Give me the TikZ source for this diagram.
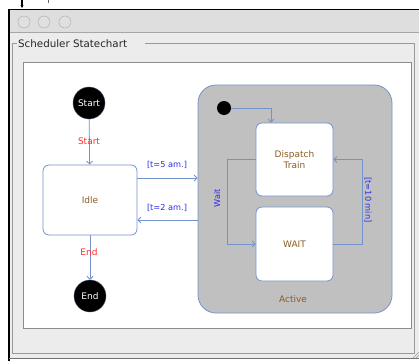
\documentclass[tikz,border=0pt]{standalone}
\usepackage{fontspec}
\setmainfont{DejaVu Sans}
\usetikzlibrary{arrows.meta}
\definecolor{edgec}{HTML}{7393CC}
\definecolor{lblblue}{HTML}{2B2BEA}
\definecolor{lblred}{HTML}{FF2E2E}
\definecolor{brownc}{HTML}{8A5C22}
\definecolor{activefill}{HTML}{C0C0C0}
\definecolor{winbg}{HTML}{ECECEC}
\definecolor{titlebg}{HTML}{DEDEDE}
\tikzset{
  statebox/.style={draw=edgec, line width=0.8pt, fill=white, rounded corners=6pt,
    inner sep=0pt, align=center, text=brownc, font=\fontsize{9}{10.5}\selectfont},
  terminal/.style={circle, fill=black, draw=edgec!60!black, line width=0.4pt, minimum size=32pt, inner sep=0pt,
    text=white, font=\fontsize{9}{10}\selectfont},
  conn/.style={draw=edgec, line width=0.8pt, -{Straight Barb[length=3pt,width=6pt]}},
  bluelbl/.style={text=lblblue, font=\fontsize{8.2}{9}\selectfont, inner sep=0pt},
  redlbl/.style={text=lblred, font=\fontsize{9}{10}\selectfont, inner sep=0pt},
  winbtn/.style={circle, draw=black!30, fill=black!12, minimum size=12pt, inner sep=0pt, line width=0.5pt}
}
\begin{document}
\begin{tikzpicture}[x=1pt,y=-1pt]
\useasboundingbox (0,0) rectangle (419,361);
\fill[white] (0,0) rectangle (419,361);
% little marks at top
\draw[black, line width=1.2pt, -{Stealth[length=3pt,width=3pt]}] (22,0) -- (22,8);
\draw[black!60, line width=0.6pt] (48,0) -- (48,3);
% window
\fill[winbg] (9,10) rectangle (419,359);
\fill[titlebg] (9,10) rectangle (419,32);
\draw[black!35, line width=0.6pt] (9,32.5) -- (419,32.5);
\draw[black, line width=1.5pt] (8,9.5) -- (419,9.5);
\draw[black, line width=2pt] (8.5,9) -- (8.5,361);
\draw[black!55, line width=1pt] (9,358.5) -- (419,358.5);
\node[winbtn] (b1) at (24,22) {};
\node[winbtn] (b2) at (44,22) {};
\node[winbtn] (b3) at (65,22) {};
% group box
\draw[black!40, line width=0.6pt] (145,43) -- (414,43) -- (414,353) -- (12.5,353) -- (12.5,43) -- (17,43);
\node[anchor=west, inner sep=0pt, font=\fontsize{10.3}{12}\selectfont, text=black!85] (title) at (18,44) {Scheduler Statechart};
% panel
\fill[white] (23,62) rectangle (411,328);
\draw[black!45, line width=0.8pt] (23,62) rectangle (411,328);
% active composite state
\node[draw=edgec, line width=0.8pt, fill=activefill, rounded corners=18pt, minimum width=194pt, minimum height=228pt, inner sep=0pt] (Active) at (295,199) {};
\node[text=brownc, font=\fontsize{9}{10}\selectfont, inner sep=0pt] (activelbl) at (293,299) {Active};
% states
\node[terminal] (Start) at (89,103) {Start};
\node[terminal] (End) at (90,296) {End};
\node[statebox, minimum width=94pt, minimum height=70pt] (Idle) at (90,200) {Idle};
\node[statebox, minimum width=77pt, minimum height=73pt] (Dispatch) at (294.5,159.5) {Dispatch\\Train};
\node[statebox, minimum width=77pt, minimum height=74pt] (WAIT) at (294.5,244) {WAIT};
\node[circle, fill=black, minimum size=14pt, inner sep=0pt] (init) at (224,108) {};
% transitions
\draw[conn] (Start) -- (Idle);
\node[redlbl] (lstart) at (89,141) {Start};
\draw[conn] (Idle) -- (End);
\node[redlbl] (lend) at (89,252) {End};
\draw[conn] (Idle.east |- 0,178) -- (Active.west |- 0,178);
\node[bluelbl] (l5) at (167,165) {[t=5 am.]};
\draw[conn] (Active.west |- 0,220) -- (Idle.east |- 0,220);
\node[bluelbl] (l2) at (167,208) {[t=2 am.]};
\draw[conn] (init.east) -| (Dispatch.north -| 271,0);
\draw[conn] (Dispatch.west) -- ++(-28,0) |- (WAIT.west);
\node[bluelbl, rotate=90] (lwait) at (217,198) {Wait};
\draw[conn] (WAIT.east) -- ++(29,0) |- (Dispatch.east);
\node[bluelbl, rotate=-90] (l10) at (368,200) {[t=10 min]};
% resize grip
\draw[black!40, line width=0.5pt] (413,358) -- (419,352) (416,358) -- (419,355);
\end{tikzpicture}
\end{document}
